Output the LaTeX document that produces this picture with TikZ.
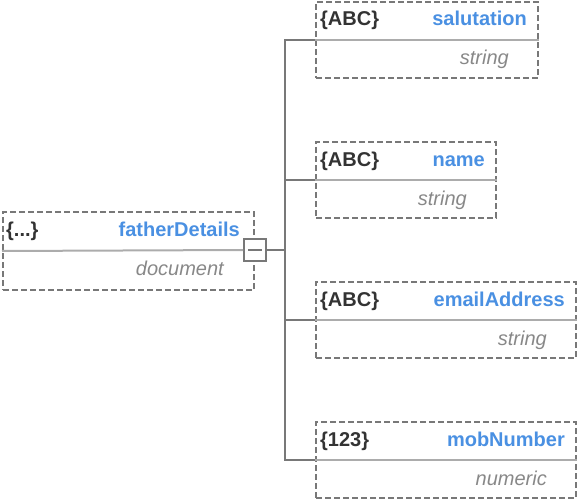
\documentclass[tikz,border=0pt]{standalone}
\usepackage{fontspec}
\setmainfont{Liberation Sans}
\usetikzlibrary{positioning,calc}
\definecolor{edge}{RGB}{120,120,120}
\definecolor{rule}{RGB}{172,172,172}
\definecolor{key}{RGB}{74,144,226}
\definecolor{ink}{RGB}{51,51,51}
\definecolor{kind}{RGB}{136,136,136}
\newcommand\fs{\fontsize{20}{24}\selectfont}
\tikzset{
  fld/.style={draw=edge,line width=2pt,dash pattern=on 6pt off 3pt,
    minimum width=#1,minimum height=76pt,anchor=north west,inner sep=0pt},
  icon/.style={font=\fs\bfseries,text=ink,anchor=base west,inner sep=0pt},
  fname/.style={font=\fs\bfseries,text=key,anchor=base east,inner sep=0pt},
  ftype/.style={font=\fs\itshape,text=kind,anchor=base east,inner sep=0pt},
  sep/.style={draw=rule,line width=2pt},
  wire/.style={draw=edge,line width=2pt},
  btn/.style={draw=edge,fill=white,line width=2pt,minimum width=22pt,
    minimum height=22pt,inner sep=0pt}
}

\begin{document}
\begin{tikzpicture}[x=1pt,y=-1pt]
  \useasboundingbox (0,0) rectangle (578,500);
  % parent field
  \node[fld=251pt,minimum height=78pt] (doc) at (2,211) {};
  \node[icon] (doci) at ($(doc.north west)+(4,25)$) {\{...\}};
  \node[fname] (docn) at ($(doc.north east)+(-15,25)$) {fatherDetails};
  \node[ftype] (doct) at ($(doc.north east)+(-31,64)$) {document};
  \node[btn] (fold) at (255,250) {};
  \draw[sep] (doc.west) -- (fold.west);
  \draw[wire,line width=1.6pt] ([xshift=-7pt]fold.center) -- ([xshift=7pt]fold.center);
  \draw[wire] (fold.east) -- ++(18,0) coordinate (j);
  % child fields
  \foreach \i/\w/\y/\ic/\nm/\ty in {1/222/1/\{ABC\}/salutation/string,
      2/180/141/\{ABC\}/name/string,
      3/260/281/\{ABC\}/emailAddress/string,
      4/260/421/\{123\}/mobNumber/numeric} {
    \node[fld=\w pt] (c\i) at (315,\y) {};
    \draw[sep] (c\i.west) -- (c\i.east);
    \node[icon] (c\i i) at ($(c\i.north west)+(5,25)$) {\ic};
    \node[fname] (c\i n) at ($(c\i.north east)+(-12,25)$) {\nm};
    \node[ftype] (c\i t) at ($(c\i.north east)+(-30,64)$) {\ty};
    \draw[wire] (c\i.west) -| (j);
  }
\end{tikzpicture}
\end{document}
